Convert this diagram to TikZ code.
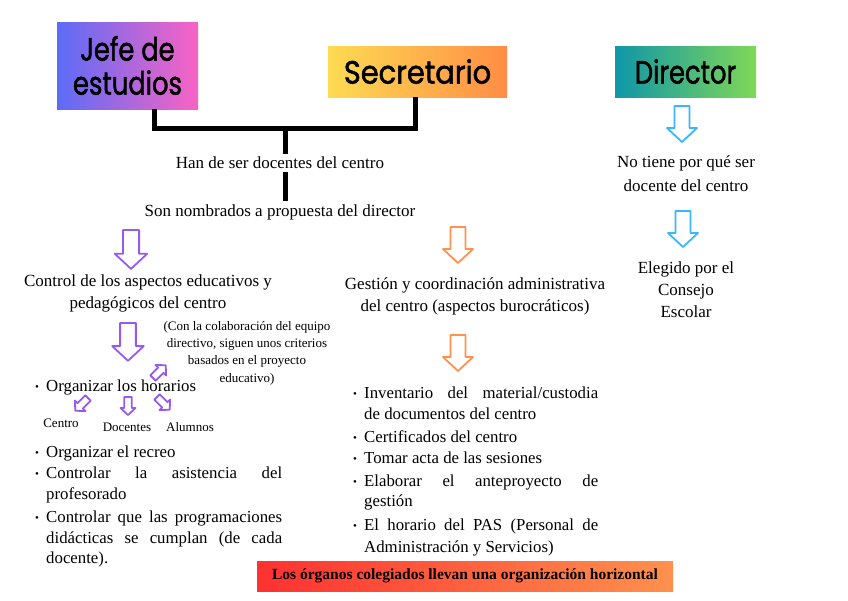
\documentclass[tikz,border=0pt]{standalone}
\usepackage{fontspec}
\setmainfont{Liberation Serif}
\newfontfamily\headfont[FakeBold=1.6]{Poppins}
\definecolor{jefeL}{HTML}{5B6CF7}
\definecolor{jefeR}{HTML}{F963C4}
\definecolor{secL}{HTML}{FEDB52}
\definecolor{secR}{HTML}{FE8D45}
\definecolor{dirL}{HTML}{0F96A8}
\definecolor{dirR}{HTML}{80D856}
\definecolor{botL}{HTML}{FF3131}
\definecolor{botR}{HTML}{FF914D}
\definecolor{purp}{RGB}{150,90,240}
\definecolor{oran}{HTML}{FF914D}
\definecolor{blu}{HTML}{38B6FF}
\begin{document}
\begin{tikzpicture}[x=1pt,y=-1pt,
  box/.style={draw=none, inner sep=0pt, align=center, text=black},
  head/.style={box, font=\headfont\fontsize{28}{35}\selectfont},
  txt/.style={font=\fontsize{17}{22}\selectfont, align=center, inner sep=3pt},
  small/.style={font=\fontsize{13}{17.3}\selectfont, align=center, inner sep=1pt},
  ln/.style={font=\fontsize{16.8}{16.8}\selectfont, anchor=base west, inner sep=0pt},
  bracket/.style={line width=5pt, line join=miter},
  harrow/.pic={\draw[line width=1.8pt, line join=round, pic actions]
     (-7.5,0) -- (7.5,0) -- (7.5,22) -- (15,22) -- (0,36) -- (-15,22) -- (-7.5,22) -- cycle;},
]
\useasboundingbox (0,0) rectangle (848,600);
\newcommand\bul{\makebox[11pt][l]{\fontsize{11}{11}\selectfont\raisebox{1pt}{•}}}
\newcommand\hs[2]{\scalebox{#1}[1.15]{#2}}

% header boxes
\node[head, left color=jefeL, right color=jefeR, minimum width=141, minimum height=87] (jefe) at (127.5,65.5) {\hs{0.92}{Jefe de}\\[-1pt]\hs{0.92}{estudios}};
\node[head, left color=secL, right color=secR, minimum width=179, minimum height=51] (secr) at (417.5,71.5) {\hs{1.03}{Secretario}};
\node[head, left color=dirL, right color=dirR, minimum width=141, minimum height=51] (dir) at (685.5,71.5) {\hs{0.92}{Director}};

% common texts
\node[txt] (han) at (280,163) {Han de ser docentes del centro};
\node[txt] (son) at (280,212) {Son nombrados a propuesta del director};

% bracket
\coordinate (bl) at (154,128);
\coordinate (br) at (415,128);
\coordinate (bm) at (285,128);
\draw[bracket] (jefe.south -| bl) -- (bl) -- (br) -- (secr.south -| br);
\draw[bracket] (bm) -- (han.north -| bm);
\draw[bracket] (han.south -| bm) -- (son.north -| bm);

% arrows
\pic[draw=purp, scale=1.08] at (131,230) {harrow};
\pic[draw=purp, scale=1.05] at (128,323) {harrow};
\pic[draw=oran] at (458,227) {harrow};
\pic[draw=oran] at (458,335) {harrow};
\pic[draw=blu] at (682,106) {harrow};
\pic[draw=blu] at (683,211) {harrow};
\pic[draw=purp, scale=0.5, rotate=135] at (153,378) {harrow};
\pic[draw=purp, scale=0.5, rotate=-45] at (88,398) {harrow};
\pic[draw=purp, scale=0.5] at (128,397) {harrow};
\pic[draw=purp, scale=0.5, rotate=45] at (157,397) {harrow};

% Jefe column
\node[txt] (ctrl) at (148,293) {Control de los aspectos educativos y\\pedagógicos del centro};
\node[small] (nota) at (247,353) {(Con la colaboración del equipo\\directivo, siguen unos criterios\\basados en el proyecto\\educativo)};
\node[ln] (j1) at (35,391) {\bul Organizar los horarios};
\node[small] (centro) at (61,423) {Centro};
\node[small] (doc) at (127,427) {Docentes};
\node[small] (alu) at (190,427) {Alumnos};
\node[ln] (j2) at (35,457) {\bul Organizar el recreo};
\node[ln] (j3) at (35,478) {\bul\makebox[236pt][s]{Controlar la asistencia del}};
\node[ln] (j4) at (46,499) {profesorado};
\node[ln] (j5) at (35,522) {\bul\makebox[236pt][s]{Controlar que las programaciones}};
\node[ln] (j6) at (46,543) {\makebox[236pt][s]{didácticas se cumplan (de cada}};
\node[ln] (j7) at (46,563) {docente).};

% Secretario column
\node[txt] (gest) at (475,296) {Gestión y coordinación administrativa\\del centro (aspectos burocráticos)};
\node[ln] (s1) at (353,398) {\bul\makebox[234pt][s]{Inventario del material/custodia}};
\node[ln] (s2) at (364,419) {de documentos del centro};
\node[ln] (s3) at (353,442) {\bul Certificados del centro};
\node[ln] (s4) at (353,463) {\bul Tomar acta de las sesiones};
\node[ln] (s5) at (353,486) {\bul\makebox[234pt][s]{Elaborar el anteproyecto de}};
\node[ln] (s6) at (364,506) {gestión};
\node[ln] (s7) at (353,530) {\bul\makebox[234pt][s]{El horario del PAS (Personal de}};
\node[ln] (s8) at (364,552) {Administración y Servicios)};

% Director column
\node[txt, font=\fontsize{17}{24}\selectfont] (notiene) at (686,174) {No tiene por qué ser\\docente del centro};
\node[txt] (elegido) at (686,290) {Elegido por el\\Consejo\\Escolar};

% bottom banner
\node[box, left color=botL, right color=botR, minimum width=416, minimum height=30, font=\bfseries\fontsize{15.5}{15.5}\selectfont] (banner) at (465,576) {Los órganos colegiados llevan una organización horizontal};
\end{tikzpicture}
\end{document}
